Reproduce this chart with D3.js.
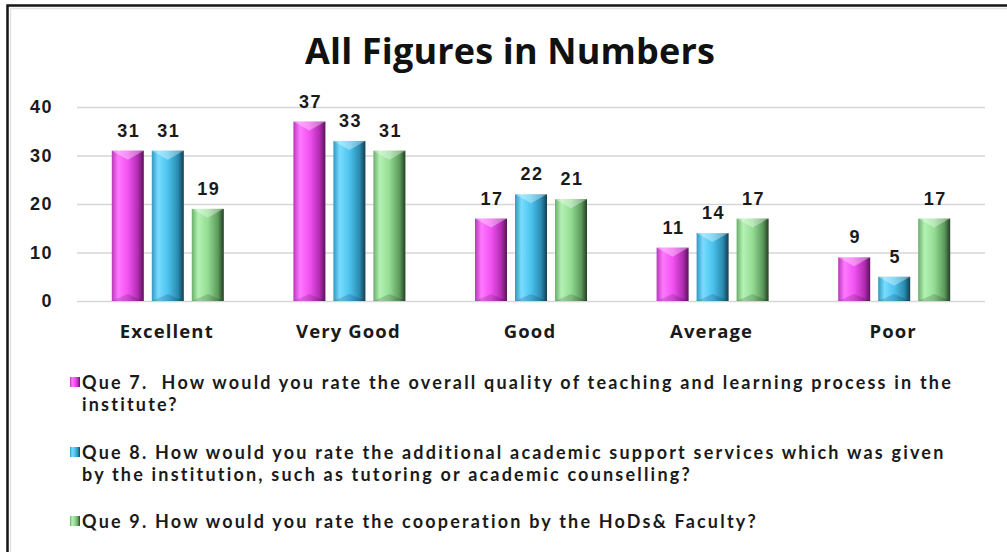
<!DOCTYPE html>
<html>
<head>
<meta charset="utf-8">
<script src="https://cdn.jsdelivr.net/npm/d3@7"></script>
<style>
  html, body { margin: 0; padding: 0; background: #fff; }
  svg { display: block; }
  text { white-space: pre; }
</style>
</head>
<body>
<svg id="chart"></svg>
<script>
var width = 1007;
var height = 552;

// chart data
var categories = ["Excellent", "Very Good", "Good", "Average", "Poor"];
var seriesKeys = ["q7", "q8", "q9"];
var q7 = [31, 37, 17, 11, 9];
var q8 = [31, 33, 22, 14, 5];
var q9 = [19, 31, 21, 17, 17];
var yTicks = [0, 10, 20, 30, 40];
var title = "All Figures in Numbers";
var legendLines = [
  ["Que 7.  How would you rate the overall quality of teaching and learning process in the", "institute?"],
  ["Que 8. How would you rate the additional academic support services which was given", "by the institution, such as tutoring or academic counselling?"],
  ["Que 9. How would you rate the cooperation by the HoDs& Faculty?"]
];

var values = {q7: q7, q8: q8, q9: q9};

// gradient stops per series (left -> right)
var palette = {
  q7: ["#b838b8", "#ff78ff", "#f252f2", "#b02cb0", "#5a125a"],
  q8: ["#3398c0", "#78dcff", "#4cc4ee", "#2a8ab0", "#123e50"],
  q9: ["#6aae6a", "#b4f2b4", "#94dc94", "#5c9a5c", "#243e24"]
};

var textFont = "'Open Sans', Lato, sans-serif";
var legendFont = "Lato, 'Open Sans', sans-serif";
var numFont = "'Liberation Sans', Arial, sans-serif";

var svg = d3.select("#chart")
  .attr("width", width)
  .attr("height", height);

var defs = svg.append("defs");

seriesKeys.forEach(function(k) {
  var g = defs.append("linearGradient")
    .attr("id", "grad-" + k)
    .attr("x1", "0%").attr("x2", "100%").attr("y1", "0%").attr("y2", "0%");
  var offs = [0, 0.2, 0.5, 0.82, 1];
  palette[k].forEach(function(c, i) {
    g.append("stop").attr("offset", offs[i]).attr("stop-color", c);
  });
});

// stretch letter spacing so a text node reaches a target width
function spacingFor(node, target) {
  var w = node.getComputedTextLength();
  var n = node.textContent.length;
  return (target - w) / n;
}

// frame
svg.append("rect")
  .attr("x", 7.5).attr("y", 5.5)
  .attr("width", width + 20).attr("height", height + 20)
  .attr("fill", "#fff")
  .attr("stroke", "#151515")
  .attr("stroke-width", 2.5);
svg.append("rect")
  .attr("x", 10.5).attr("y", 8.5)
  .attr("width", width + 20).attr("height", height + 20)
  .attr("fill", "none")
  .attr("stroke", "#e4e4e4")
  .attr("stroke-width", 1.5);

// title
var titleText = svg.append("text")
  .attr("x", 510).attr("y", 64)
  .attr("text-anchor", "middle")
  .attr("font-family", textFont)
  .attr("font-weight", "bold")
  .attr("font-size", 36)
  .attr("fill", "#111")
  .text(title);
titleText.attr("letter-spacing", spacingFor(titleText.node(), 410));

// scales
var plotLeft = 77, plotRight = 985;
var x0 = d3.scaleBand().domain(categories).range([plotLeft, plotRight]);
var groupWidth = 112;
var x1 = d3.scaleBand().domain(seriesKeys).range([0, groupWidth]).paddingInner(0.2);
var y = d3.scaleLinear().domain([0, 40]).range([301, 107]);

// gridlines + y labels
var yAxis = d3.axisLeft(y)
  .tickValues(yTicks)
  .tickSize(-(plotRight - plotLeft))
  .tickPadding(24)
  .tickFormat(d3.format("d"));

var gAxis = svg.append("g")
  .attr("transform", "translate(" + plotLeft + ",0)")
  .call(yAxis);
gAxis.select(".domain").remove();
gAxis.selectAll(".tick line")
  .attr("stroke", "#d6d6d6")
  .attr("stroke-width", 1.6);
gAxis.selectAll(".tick text")
  .attr("font-family", numFont)
  .attr("font-weight", "bold")
  .attr("font-size", 18)
  .attr("letter-spacing", 1.5)
  .attr("fill", "#1a1a1a");

// category labels
var catLabels = svg.append("g").selectAll("text")
  .data(categories)
  .join("text")
  .attr("x", function(d) { return x0(d) + x0.bandwidth() / 2 - 1; })
  .attr("y", 338)
  .attr("text-anchor", "middle")
  .attr("font-family", textFont)
  .attr("font-weight", "bold")
  .attr("font-size", 18.5)
  .attr("fill", "#1a1a1a")
  .text(function(d) { return d; });
var catSpacing = spacingFor(catLabels.node(), 94);
catLabels.attr("letter-spacing", catSpacing);

// bars
var rows = [];
categories.forEach(function(c, i) {
  seriesKeys.forEach(function(k) {
    rows.push({cat: c, key: k, value: values[k][i]});
  });
});

function barX(d) {
  return x0(d.cat) + (x0.bandwidth() - groupWidth) / 2 + x1(d.key);
}

var bars = svg.append("g").selectAll("g")
  .data(rows)
  .join("g");

bars.append("rect")
  .attr("x", barX)
  .attr("y", function(d) { return y(d.value); })
  .attr("width", x1.bandwidth())
  .attr("height", function(d) { return y(0) - y(d.value); })
  .attr("fill", function(d) { return "url(#grad-" + d.key + ")"; });

// top bevel
bars.append("path")
  .attr("d", function(d) {
    var x = barX(d), w = x1.bandwidth(), t = y(d.value);
    return "M" + x + "," + t + "L" + (x + w) + "," + t + "L" + (x + w / 2) + "," + (t + 9) + "Z";
  })
  .attr("fill", "#fff")
  .attr("opacity", 0.35);

// bottom bevel shadow
bars.append("path")
  .attr("d", function(d) {
    var x = barX(d), w = x1.bandwidth(), b = y(0);
    return "M" + x + "," + b + "L" + (x + w) + "," + b + "L" + (x + w / 2) + "," + (b - 7) + "Z";
  })
  .attr("fill", "#000")
  .attr("opacity", 0.15);

// value labels
bars.append("text")
  .attr("x", function(d) { return barX(d) + x1.bandwidth() / 2 + 1; })
  .attr("y", function(d) { return y(d.value) - 14; })
  .attr("text-anchor", "middle")
  .attr("font-family", numFont)
  .attr("font-weight", "bold")
  .attr("font-size", 18)
  .attr("letter-spacing", 1.5)
  .attr("fill", "#1a1a1a")
  .text(function(d) { return d.value; });

// legend
var legendTop = [389, 459, 528];
var lineGap = 22;
var legend = svg.append("g").selectAll("g")
  .data(seriesKeys)
  .join("g");

legend.append("rect")
  .attr("x", 70)
  .attr("y", function(d, i) { return legendTop[i] - 12; })
  .attr("width", 10).attr("height", 10)
  .attr("fill", function(d) { return "url(#grad-" + d + ")"; });

var legendTexts = [];
legend.each(function(k, i) {
  var t = d3.select(this).append("text")
    .attr("x", 82)
    .attr("y", legendTop[i])
    .attr("font-family", legendFont)
    .attr("font-weight", "bold")
    .attr("font-size", 18)
    .attr("fill", "#1a1a1a");
  legendLines[i].forEach(function(line, j) {
    var ts = t.append("tspan")
      .attr("x", 82)
      .attr("dy", j === 0 ? 0 : lineGap)
      .text(line);
    legendTexts.push(ts);
  });
});
// one spacing for all legend lines, set by the first line's width
var legSpacing = spacingFor(legendTexts[0].node(), 871);
legend.selectAll("text").attr("letter-spacing", legSpacing);
</script>
</body>
</html>
